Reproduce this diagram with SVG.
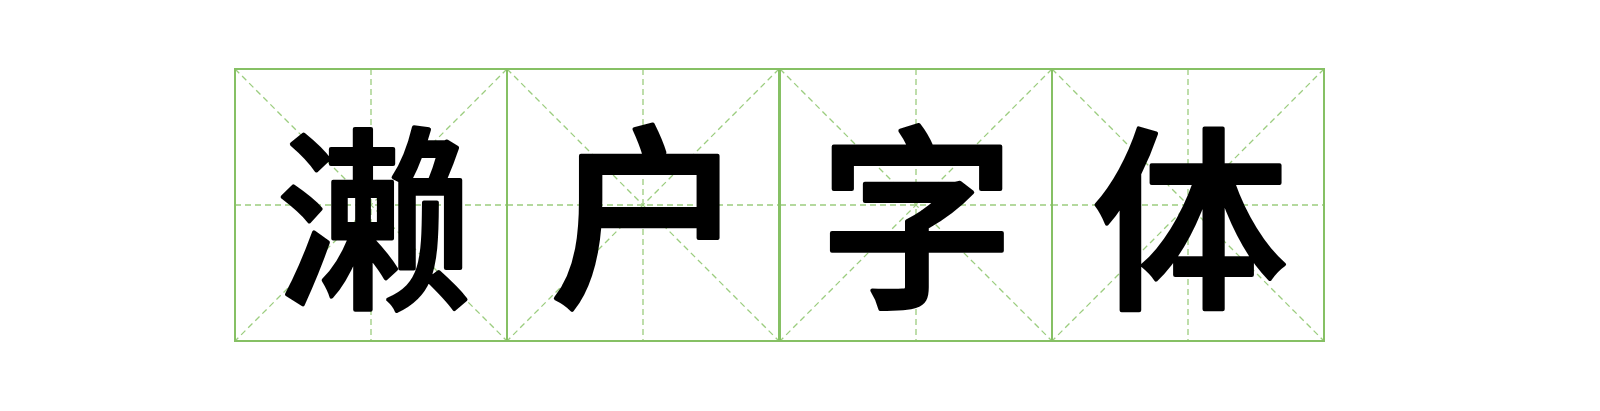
<svg xmlns="http://www.w3.org/2000/svg" width="1600" height="411" viewBox="0 0 1600 411">
  <style>
    .frame { fill: none; stroke: #86c064; stroke-width: 2; }
    .guide { fill: none; stroke: #9ccd7f; stroke-width: 1.3; stroke-dasharray: 6 4; }
    .ch { font-family: "Noto Sans CJK SC", "Noto Sans CJK JP", sans-serif; font-weight: 500; font-size: 196px; fill: #000; stroke: #000; stroke-width: 4; stroke-linejoin: round; text-anchor: middle; dominant-baseline: central; }
  </style>
  <defs>
    <g id="grid">
      <line class="guide" x1="0" y1="0" x2="272" y2="272"/>
      <line class="guide" x1="272" y1="0" x2="0" y2="272"/>
      <line class="guide" x1="136" y1="0" x2="136" y2="272"/>
      <line class="guide" x1="0" y1="136" x2="272" y2="136"/>
      <rect class="frame" x="0" y="0" width="272" height="272"/>
    </g>
  </defs>
  <rect width="1600" height="411" fill="#fff"/>
  <g id="cell1">
    <use href="#grid" x="235" y="69"/>
    <text class="ch" x="374" y="207">濑</text>
  </g>
  <g id="cell2">
    <use href="#grid" x="507" y="69"/>
    <text class="ch" x="648" y="205">户</text>
  </g>
  <g id="cell3">
    <use href="#grid" x="780" y="69"/>
    <text class="ch" x="917" y="206">字</text>
  </g>
  <g id="cell4">
    <use href="#grid" x="1052" y="69"/>
    <text class="ch" x="1190" y="207">体</text>
  </g>
</svg>
